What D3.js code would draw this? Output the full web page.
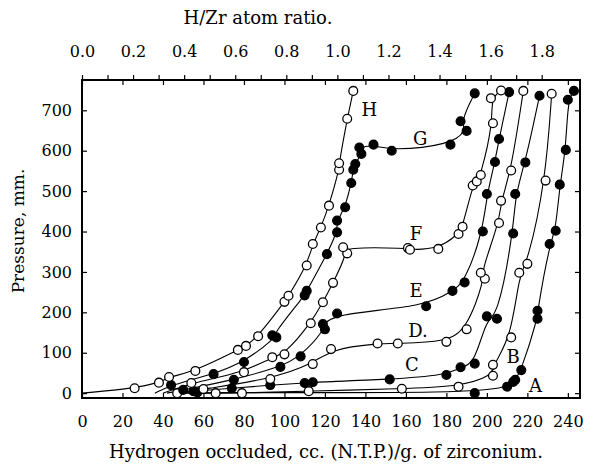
<!DOCTYPE html>
<html>
<head>
<meta charset="utf-8">
<script src="https://cdn.jsdelivr.net/npm/d3@7"></script>
<style>
    body { margin: 0; background: #fff; }
    text { font-family: "DejaVu Serif", "Liberation Serif", serif; fill: #000; }
</style>
</head>
<body>
<svg id="chart"></svg>
<script>
// isotherms, [cc/g, mm]
const pointsA = [[57,2],[194,0],[210,16],[213,28],[214,33],[217,57],[225,184],[225,204],[231,369],[234,402],[236,516],[239,602],[240,726],[243,748]];
const pointsB = [[47,0],[66,0],[79,0],[112,5],[158,11],[186,16],[203,43],[203,70],[212,138],[216,298],[220,320],[229,526],[232,741]];
const pointsC = [[55,5],[74,12],[93,20],[110,25],[114,27],[152,34],[180,45],[187,64],[194,73],[200,190],[205,184],[213,395],[214,493],[219,571],[226,736]];
const pointsD = [[60,10],[93,35],[114,72],[123,109],[146,123],[156,123],[180,127],[190,158],[199,283],[197,298],[206,421],[207,476],[212,551],[218,748]];
const pointsE = [[50,8],[75,33],[98,65],[108,91],[120,158],[119,171],[126,197],[170,215],[183,253],[189,274],[198,400],[200,493],[204,572],[206,629],[211,745]];
const pointsF = [[54,25],[80,52],[94,89],[100,96],[113,173],[119,225],[124,273],[131,346],[129,361],[161,359],[162,355],[176,357],[186,394],[188,412],[193,514],[195,524],[197,540],[203,668],[202,730],[207,749]];
const pointsG = [[44,20],[65,47],[80,77],[96,138],[94,143],[110,242],[111,253],[121,344],[126,398],[126,427],[130,460],[133,520],[134,553],[135,567],[138,592],[137,608],[144,615],[153,600],[182,615],[190,649],[187,673],[194,742]];
const pointsH = [[26,12],[38,26],[43,40],[56,55],[77,107],[81,117],[87,141],[100,226],[102,241],[111,316],[114,369],[118,410],[122,464],[127,553],[127,569],[131,679],[134,748]];

const curveNames = ['A','B','C','D','E','F','G','H'];
const curvePoints = [pointsA, pointsB, pointsC, pointsD, pointsE, pointsF, pointsG, pointsH];
const curveFilled = [true, false, true, false, true, false, true, false];
const startX = [50, 47, 46, 48, 42, 40, 36, 0];   // where each line leaves zero pressure

const labelText = ['A','B','C','D.','E','F','G','H'];
const labelX = [224, 213, 163, 166, 165, 165, 167, 142];
const labelY = [20, 91, 70, 155, 254, 396, 631, 703];

const xTicks = d3.range(0, 241, 20);
const yTicks = d3.range(0, 701, 100);
const ratioTicks = d3.range(0, 19).map(i => i / 10);

const config = {
    width: 594,
    height: 464,
    margin: {top: 80, right: 14, bottom: 66, left: 82}
};

const innerW = config.width - config.margin.left - config.margin.right;
const innerH = config.height - config.margin.top - config.margin.bottom;

const svg = d3.select('#chart')
    .attr('width', config.width)
    .attr('height', config.height);

const chart = svg.append('g')
    .attr('transform', `translate(${config.margin.left},${config.margin.top})`);

const xScale = d3.scaleLinear().domain([0, 246]).range([0, innerW]);
const yScale = d3.scaleLinear().domain([-12, 775]).range([innerH, 0]);
const ratioScale = d3.scaleLinear().domain([0, 1.95]).range([0, innerW]);

// axes
chart.append('g')
    .attr('transform', `translate(0,${innerH})`)
    .call(d3.axisBottom(xScale).tickValues(xTicks).tickSizeInner(-5).tickSizeOuter(0).tickPadding(18));

chart.append('g')
    .call(d3.axisTop(xScale).tickValues(xTicks).tickSizeInner(-5).tickSizeOuter(0).tickFormat(''));

chart.append('g')
    .call(d3.axisTop(ratioScale).tickValues(ratioTicks).tickSizeInner(5).tickSizeOuter(0).tickPadding(18)
        .tickFormat(d => Math.round(d * 10) % 2 === 0 ? d3.format('.1f')(d) : ''));

chart.append('g')
    .call(d3.axisLeft(yScale).tickValues(yTicks).tickSizeInner(-5).tickSizeOuter(0).tickPadding(10));

chart.append('g')
    .attr('transform', `translate(${innerW},0)`)
    .call(d3.axisRight(yScale).tickValues(yTicks).tickSizeInner(-5).tickSizeOuter(0).tickFormat(''));

chart.selectAll('.domain').remove();
chart.selectAll('.tick line').attr('stroke', '#000').attr('stroke-width', 1.2);
chart.selectAll('.tick text').style('font-size', '16px').attr('fill', '#000');

chart.append('rect')
    .attr('width', innerW)
    .attr('height', innerH)
    .attr('fill', 'none')
    .attr('stroke', '#000')
    .attr('stroke-width', 2);

// titles
svg.append('text')
    .attr('x', 258).attr('y', 24)
    .attr('text-anchor', 'middle')
    .style('font-size', '18px')
    .text('H/Zr atom ratio.');

svg.append('text')
    .attr('x', 326).attr('y', 458)
    .attr('text-anchor', 'middle')
    .style('font-size', '18px')
    .text('Hydrogen occluded, cc. (N.T.P.)/g. of zirconium.');

svg.append('text')
    .attr('transform', `translate(24,${config.margin.top + innerH / 2 - 8}) rotate(-90)`)
    .attr('text-anchor', 'middle')
    .style('font-size', '17px')
    .text('Pressure, mm.');

// curves
const line = d3.line()
    .x(d => xScale(d[0]))
    .y(d => yScale(d[1]))
    .curve(d3.curveBasis);

curvePoints.forEach((pts, i) => {
    const path = startX[i] < pts[0][0] ? [[startX[i], 0]].concat(pts) : pts;
    chart.append('path')
        .datum(path)
        .attr('d', line)
        .attr('fill', 'none')
        .attr('stroke', '#000')
        .attr('stroke-width', 1.1);
});

curvePoints.forEach((pts, i) => {
    chart.selectAll(`.pt-${curveNames[i]}`)
        .data(pts)
        .join('circle')
        .attr('class', `pt-${curveNames[i]}`)
        .attr('cx', d => xScale(d[0]))
        .attr('cy', d => yScale(d[1]))
        .attr('r', 4.4)
        .attr('fill', curveFilled[i] ? '#000' : '#fff')
        .attr('stroke', '#000')
        .attr('stroke-width', 1.3);
});

chart.selectAll('.curve-label')
    .data(labelText)
    .join('text')
    .attr('class', 'curve-label')
    .attr('x', (d, i) => xScale(labelX[i]))
    .attr('y', (d, i) => yScale(labelY[i]))
    .attr('dy', '0.36em')
    .attr('text-anchor', 'middle')
    .style('font-size', '18px')
    .text(d => d);
</script>
</body>
</html>
